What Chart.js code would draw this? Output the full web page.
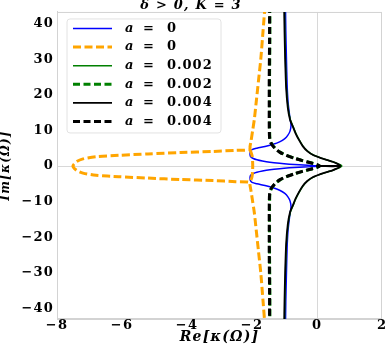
<!DOCTYPE html>
<html>
<head>
<meta charset="utf-8">
<script src="https://cdn.jsdelivr.net/npm/chart.js@4.4.1/dist/chart.umd.min.js"></script>
<style>
  html, body { margin: 0; padding: 0; background: #fff; }
  canvas { display: block; }
</style>
</head>
<body>
<canvas id="kappaChart" width="388" height="346"></canvas>
<script>
// κ(Ω) traced in the complex plane for δ > 0, K = 3 (three values of a).
const xTicks = [-8, -6, -4, -2, 0, 2];
const yTicks = [-40, -30, -20, -10, 0, 10, 20, 30, 40];

// a = 0, solid branch
const blueRe = [-0.97, -0.96, -0.94, -0.92, -0.89, -0.84, -0.80, -0.83, -0.90, -0.99, -1.15, -1.35, -1.60, -1.85, -2.00, -2.05, -2.06, -2.04, -1.96, -1.85, -1.68, -1.45, -1.15, -0.85, -0.55, -0.28, 0.0,
                0.0, -0.28, -0.55, -0.85, -1.15, -1.45, -1.68, -1.85, -1.96, -2.04, -2.06, -2.05, -2.00, -1.85, -1.60, -1.35, -1.15, -0.99, -0.90, -0.83, -0.80, -0.84, -0.89, -0.92, -0.94, -0.96, -0.97];
const blueIm = [45, 38, 30, 23, 18, 14, 11.5, 9.8, 8.6, 7.7, 6.8, 6.1, 5.5, 5.0, 4.6, 4.1, 3.2, 2.6, 2.1, 1.75, 1.4, 1.05, 0.75, 0.52, 0.34, 0.2, 0.08,
                -0.08, -0.2, -0.34, -0.52, -0.75, -1.05, -1.4, -1.75, -2.1, -2.6, -3.2, -4.1, -4.6, -5.0, -5.5, -6.1, -6.8, -7.7, -8.6, -9.8, -11.5, -14, -18, -23, -30, -38, -45];

// a = 0, dashed branch (outer arms and the left lobe)
const orangeRe = [-1.60, -1.66, -1.73, -1.80, -1.87, -1.93, -1.98, -2.03, -2.06, -2.07, -2.5, -3.2, -4.2, -5.2, -6.1, -6.8, -7.2, -7.4, -7.51,
                  -7.4, -7.2, -6.8, -6.1, -5.2, -4.2, -3.2, -2.5, -2.07, -2.06, -2.03, -1.98, -1.93, -1.87, -1.80, -1.73, -1.66, -1.60];
const orangeIm = [45, 38, 30, 24, 18, 13, 10, 7, 5.5, 4.6, 4.4, 4.1, 3.8, 3.4, 3.0, 2.6, 2.0, 1.2, 0,
                  -1.2, -2.0, -2.6, -3.0, -3.4, -3.8, -4.1, -4.4, -4.6, -5.5, -7, -10, -13, -18, -24, -30, -38, -45];
// a = 0, dashed branch (short piece between the two junctions)
const orangeMidRe = [-2.06, -2.00, -1.98, -1.98, -2.00, -2.06];
const orangeMidIm = [4.6, 3.0, 1.0, -1.0, -3.0, -4.6];

// a = 0.002
const greenRe = [-1.00, -0.99, -0.97, -0.94, -0.89, -0.82, -0.73, -0.65, -0.55, -0.43, -0.29, -0.11, 0.11, 0.31, 0.49, 0.62, 0.71, 0.76, 0.5, 0.25, 0.0,
                 0.0, 0.25, 0.5, 0.76, 0.71, 0.62, 0.49, 0.31, 0.11, -0.11, -0.29, -0.43, -0.55, -0.65, -0.73, -0.82, -0.89, -0.94, -0.97, -0.99, -1.00];
const greenIm = [45, 38, 30, 22, 16.5, 13, 11, 9.2, 7.4, 5.6, 4.2, 3.1, 2.3, 1.7, 1.2, 0.75, 0.35, 0, 0.06, 0.05, 0.02,
                 -0.02, -0.05, -0.06, 0, -0.35, -0.75, -1.2, -1.7, -2.3, -3.1, -4.2, -5.6, -7.4, -9.2, -11, -13, -16.5, -22, -30, -38, -45];
const greenDashRe = [-1.45, -1.45, -1.46, -1.46, -1.46, -1.45, -1.41, -1.29, -1.14, -0.94, -0.69, -0.44, -0.19, 0.0, 0.08,
                     0.0, -0.19, -0.44, -0.69, -0.94, -1.14, -1.29, -1.41, -1.45, -1.46, -1.46, -1.46, -1.45, -1.45];
const greenDashIm = [45, 35, 25, 17, 12, 8, 6.5, 5.0, 3.9, 3.0, 2.2, 1.5, 0.9, 0.4, 0,
                     -0.4, -0.9, -1.5, -2.2, -3.0, -3.9, -5.0, -6.5, -8, -12, -17, -25, -35, -45];

// a = 0.004
const blackRe = [-1.01, -1.00, -0.98, -0.95, -0.90, -0.83, -0.74, -0.66, -0.56, -0.44, -0.30, -0.12, 0.10, 0.30, 0.48, 0.60, 0.68, 0.72, 0.5, 0.25, 0.0,
                 0.0, 0.25, 0.5, 0.72, 0.68, 0.60, 0.48, 0.30, 0.10, -0.12, -0.30, -0.44, -0.56, -0.66, -0.74, -0.83, -0.90, -0.95, -0.98, -1.00, -1.01];
const blackIm = [45, 38, 30, 22, 16.5, 13, 11, 9.2, 7.4, 5.6, 4.2, 3.1, 2.3, 1.7, 1.2, 0.75, 0.35, 0, 0.06, 0.05, 0.02,
                 -0.02, -0.05, -0.06, 0, -0.35, -0.75, -1.2, -1.7, -2.3, -3.1, -4.2, -5.6, -7.4, -9.2, -11, -13, -16.5, -22, -30, -38, -45];
const blackDashRe = [-1.46, -1.46, -1.47, -1.47, -1.47, -1.46, -1.42, -1.30, -1.15, -0.95, -0.70, -0.45, -0.20, 0.0, 0.08,
                     0.0, -0.20, -0.45, -0.70, -0.95, -1.15, -1.30, -1.42, -1.46, -1.47, -1.47, -1.47, -1.46, -1.46];
const blackDashIm = [45, 35, 25, 17, 12, 8, 6.5, 5.0, 3.9, 3.0, 2.2, 1.5, 0.9, 0.4, 0,
                     -0.4, -0.9, -1.5, -2.2, -3.0, -3.9, -5.0, -6.5, -8, -12, -17, -25, -35, -45];

const pts = (re, im) => re.map((x, i) => ({ x, y: im[i] }));
const minus = (v) => (v < 0 ? "\u2212" + Math.abs(v) : String(v));

function curve(label, re, im, color, width, dash, order, extra) {
  return {
    label,
    data: pts(re, im),
    showLine: true,
    borderColor: color,
    backgroundColor: color,
    borderWidth: width,
    borderDash: dash,
    pointRadius: 0,
    tension: 0.25,
    order,
    hideLegend: !!extra,
  };
}

// the reference text is set wide; widen all chart text a little
const wideText = {
  id: "wideText",
  beforeUpdate(chart) { chart.ctx.letterSpacing = "1.2px"; },
  beforeDraw(chart) { chart.ctx.letterSpacing = "1.2px"; },
};

// legend box drawn inside the plot, top left (like matplotlib's)
const innerLegend = {
  id: "innerLegend",
  afterDatasetsDraw(chart) {
    const { ctx, chartArea } = chart;
    const items = chart.data.datasets.filter((d) => !d.hideLegend);
    const left = chartArea.left + 10;
    const top = chartArea.top + 7;
    ctx.save();
    ctx.beginPath();
    ctx.roundRect(left, top, 154, 114, 3);
    ctx.fillStyle = "rgba(255,255,255,0.85)";
    ctx.fill();
    ctx.strokeStyle = "#e2e2e2";
    ctx.lineWidth = 1;
    ctx.stroke();
    items.forEach((d, i) => {
      const y = top + 9.5 + i * 18.6;
      ctx.beginPath();
      ctx.setLineDash(d.borderDash || []);
      ctx.strokeStyle = d.borderColor;
      ctx.lineWidth = d.borderWidth;
      ctx.moveTo(left + 6, y);
      ctx.lineTo(left + 45, y);
      ctx.stroke();
      ctx.setLineDash([]);
      ctx.fillStyle = "#000";
      ctx.textBaseline = "middle";
      const [a, eq, val] = d.label.split(" ");
      ctx.letterSpacing = "0px";
      ctx.font = "italic bold 13px 'DejaVu Serif'";
      ctx.fillText(a, left + 58, y);
      ctx.font = "bold 13px 'DejaVu Serif'";
      ctx.fillText(eq, left + 76, y);
      ctx.letterSpacing = "1px";
      ctx.fillText(val, left + 100, y);
    });
    ctx.restore();
  },
};

// light frame on all four sides
const frame = {
  id: "frame",
  beforeDatasetsDraw(chart) {
    const { ctx, chartArea: c } = chart;
    ctx.save();
    ctx.strokeStyle = "#d3d3d3";
    ctx.lineWidth = 1;
    ctx.strokeRect(c.left + 0.5, c.top + 0.5, c.right - c.left - 1, c.bottom - c.top - 1);
    ctx.restore();
  },
};

Chart.defaults.font.family = "'DejaVu Serif', serif";
Chart.defaults.color = "#000";

const zeroGrid = (ctx) => (ctx.tick && ctx.tick.value === 0 ? "#d8d8d8" : "rgba(0,0,0,0)");

new Chart(document.getElementById("kappaChart"), {
  type: "scatter",
  data: {
    datasets: [
      curve("a = 0", blueRe, blueIm, "#0000ff", 1.5, [], 6),
      curve("a = 0", orangeRe, orangeIm, "#ffa500", 3, [8, 3.5], 5),
      curve("a = 0.002", greenRe, greenIm, "#008000", 1.5, [], 4),
      curve("a = 0.002", greenDashRe, greenDashIm, "#008000", 3, [7, 3.5], 3),
      curve("a = 0.004", blackRe, blackIm, "#000000", 1.8, [], 2),
      curve("a = 0.004", blackDashRe, blackDashIm, "#000000", 3, [7, 3.5], 1),
      curve("a = 0", orangeMidRe, orangeMidIm, "#ffa500", 3, [8, 3.5], 5, true),
    ],
  },
  options: {
    responsive: false,
    animation: false,
    layout: { padding: { left: 0, right: 6, top: 0, bottom: 0 } },
    plugins: {
      legend: { display: false },
      tooltip: { enabled: false },
      title: {
        display: true,
        text: "\u03b4 > 0, K = 3",
        font: { size: 13, weight: "bold", style: "italic", lineHeight: 0.92 },
        padding: 0,
        color: "#000",
      },
    },
    scales: {
      x: {
        type: "linear",
        min: -8,
        max: 2,
        afterBuildTicks: (s) => { s.ticks = xTicks.map((v) => ({ value: v })); },
        afterFit: (s) => { s.height = 27; },
        ticks: { callback: minus, font: { size: 13, weight: "bold" }, padding: -1, maxRotation: 0 },
        grid: { color: zeroGrid, drawTicks: false },
        border: { color: "#d3d3d3" },
        title: { display: true, text: "Re[\u03ba(\u03a9)]", font: { size: 14, weight: "bold", style: "italic", lineHeight: 1 }, padding: { top: 0, bottom: 2 } },
      },
      y: {
        type: "linear",
        min: -43,
        max: 43.3,
        afterBuildTicks: (s) => { s.ticks = yTicks.map((v) => ({ value: v })); },
        afterFit: (s) => { s.width = 57; },
        ticks: { callback: minus, font: { size: 13, weight: "bold" }, padding: 3 },
        grid: { color: zeroGrid, drawTicks: false },
        border: { color: "#d3d3d3" },
        title: { display: true, text: "Im[\u03ba(\u03a9)]", font: { size: 12, weight: "bold", style: "italic", lineHeight: 1 }, padding: 0 },
      },
    },
  },
  plugins: [wideText, frame, innerLegend],
});
</script>
</body>
</html>
